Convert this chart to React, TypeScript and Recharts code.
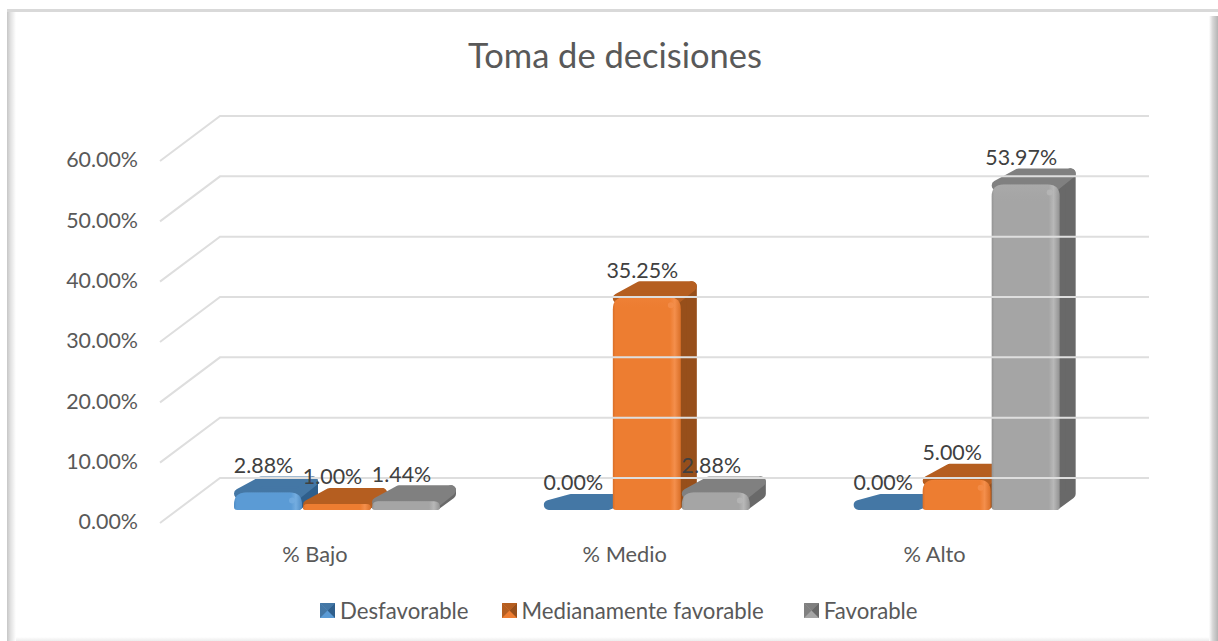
import { BarChart, Bar, XAxis, YAxis, Legend, LabelList } from 'recharts';

const categories = ['% Bajo', '% Medio', '% Alto'];
const seriesNames = ['Desfavorable', 'Medianamente favorable', 'Favorable'];
const desfavorable = [2.88, 0, 0];
const medianamente = [1.0, 35.25, 5.0];
const favorable = [1.44, 2.88, 53.97];
const yTicks = [0, 10, 20, 30, 40, 50, 60];

const chartData = categories.map((name, i) => ({
  name,
  s0: desfavorable[i],
  s1: medianamente[i],
  s2: favorable[i]
}));

const FONT = 'Lato, sans-serif';
const TEXT = '#595959';
const palette = [
  { front: '#5b9bd5', edge: '#4f8cc4', hi: '#74ade0', top: '#4477a5', side: '#2f5f8c' },
  { front: '#ed7d31', edge: '#d96f28', hi: '#f48f4c', top: '#b55e20', side: '#974f1b' },
  { front: '#a5a5a5', edge: '#939393', hi: '#b8b8b8', top: '#808080', side: '#696969' }
];

// the 3D look: bars sit partway into the floor, the walls are at the back
const BAR_DX = 23;
const BAR_DY = -13;
const DEPTH_LEFT = 22;
const DEPTH_RIGHT = 15;
const DEPTH_Y = 16;
const WALL_X = 60;
const WALL_Y = 45;
const WALL_END = 1149;

const pct = (v: number) => v.toFixed(2) + '%';

// y axis tick also draws the wall line of that value, so it follows the scale
function WallTick({ x, y, payload }: any) {
  const left = x + 8;
  return (
    <g>
      <polyline
        points={`${left},${y} ${left + WALL_X},${y - WALL_Y} ${WALL_END},${y - WALL_Y}`}
        fill="none"
        stroke="#dedede"
        strokeWidth={2}
      />
      <text x={x - 14} y={y + 1} textAnchor="end" dominantBaseline="middle" fontFamily={FONT} fontSize={21.4} fill={TEXT}>
        {pct(payload.value)}
      </text>
    </g>
  );
}

function Bar3D({ x, y, width, height, idx }: any) {
  const c = palette[idx];
  const fx = x + BAR_DX;
  const fy = y + BAR_DY;
  const r = 5;
  const right = fx + width;
  const bottom = fy + height;
  const rTop = Math.min(12, height * 0.7);
  const rBot = Math.min(3, height * 0.3);
  const w = width - 1;
  const frontPath = `M${fx},${bottom - rBot} V${fy + rTop} Q${fx},${fy} ${fx + rTop},${fy} H${fx + w - rTop} Q${fx + w},${fy} ${fx + w},${fy + rTop} V${bottom - rBot} Q${fx + w},${bottom} ${fx + w - rBot},${bottom} H${fx + rBot} Q${fx},${bottom} ${fx},${bottom - rBot} Z`;
  // the near edge of the top face drops behind the rounded front corners
  const nearY = fy + Math.min(1, height - r);
  const topFace = `${fx + r},${nearY} ${fx + DEPTH_LEFT + r},${fy - DEPTH_Y + r} ${right + DEPTH_RIGHT - r},${fy - DEPTH_Y + r} ${right - r},${nearY}`;
  const sideFace = `${right - r},${fy} ${right + DEPTH_RIGHT - r},${fy - DEPTH_Y + r} ${right + DEPTH_RIGHT - r},${Math.max(bottom - DEPTH_Y, fy - DEPTH_Y + r)} ${right - r},${bottom - r}`;
  return (
    <g>
      {height > 0 && <polygon points={sideFace} fill={c.side} stroke={c.side} strokeWidth={r * 2} strokeLinejoin="round" />}
      <polygon points={topFace} fill={c.top} stroke={c.top} strokeWidth={r * 2} strokeLinejoin="round" />
      {height > 0 && (
        <>
          <path d={frontPath} fill={`url(#front${idx})`} />
          <path d={frontPath} fill={`url(#bevel${idx})`} />
          {height > 10 && <circle cx={right - 11} cy={fy + 8} r={3} fill={c.hi} opacity={0.8} />}
        </>
      )}
    </g>
  );
}

function ValueLabel({ x, y, width, value }: any) {
  return (
    <text
      x={x + width / 2 + BAR_DX - 5}
      y={y + BAR_DY - 25}
      textAnchor="middle"
      dominantBaseline="middle"
      fontFamily={FONT}
      fontSize={21.4}
      fill="#404040"
    >
      {pct(value)}
    </text>
  );
}

function Swatch({ idx }: { idx: number }) {
  const c = palette[idx];
  return (
    <svg width={15} height={15} style={{ display: 'block', flex: 'none' }}>
      <rect width={15} height={15} fill={c.front} />
      <polygon points="0,0 15,0 7.5,7.5" fill={c.top} />
      <polygon points="15,0 15,15 7.5,7.5" fill={c.side} />
      <polygon points="0,0 0,15 7.5,7.5" fill={c.top} />
    </svg>
  );
}

function LegendRow() {
  const gaps = [33, 40, 0];
  return (
    <div style={{ display: 'flex', alignItems: 'center', fontFamily: FONT, fontSize: 22.2, color: TEXT, whiteSpace: 'nowrap' }}>
      {seriesNames.map((n, i) => (
        <div key={n} style={{ display: 'flex', alignItems: 'center', gap: 5, marginRight: gaps[i] }}>
          <Swatch idx={i} />
          <span>{n}</span>
        </div>
      ))}
    </div>
  );
}

export default function App() {
  return (
    <div style={{ position: 'absolute', left: 0, top: 0, width: 1218, height: 641, background: '#fff', overflow: 'hidden' }}>
      {/* picture frame */}
      <div style={{ position: 'absolute', left: 7, top: 9, width: 1211, height: 3, background: '#d9d9d9' }} />
      <div style={{ position: 'absolute', left: 7, top: 12, width: 9, height: 629, background: 'linear-gradient(to right, #c6c6c6, #e2e2e2 40%, #ffffff)' }} />
      <div style={{ position: 'absolute', left: 1209, top: 16, width: 9, height: 625, background: 'linear-gradient(to right, #ffffff, #d8d8d8 40%, #b4b4b4)' }} />
      <div style={{ position: 'absolute', left: 16, top: 637, width: 1193, height: 4, background: 'linear-gradient(to bottom, #ffffff, #ececec)' }} />
      <div style={{ position: 'absolute', left: 0, top: 34, width: 1230, textAlign: 'center', fontFamily: FONT, fontSize: 34.5, lineHeight: '42px', color: TEXT }}>
        Toma de decisiones
      </div>

      <div style={{ position: 'absolute', left: 0, top: 0 }}>
        <BarChart
          width={1218}
          height={641}
          data={chartData}
          margin={{ top: 161, right: 128.5, bottom: 88, left: 0 }}
          barSize={69}
          barGap={0}
          barCategoryGap={51}
        >
          <defs>
            {palette.map((c, i) => (
              <g key={i}>
                <linearGradient id={`front${i}`} x1="0" y1="0" x2="1" y2="0">
                  <stop offset="0" stopColor={c.edge} />
                  <stop offset="0.04" stopColor={c.front} />
                  <stop offset="0.84" stopColor={c.front} />
                  <stop offset="0.91" stopColor={c.hi} />
                  <stop offset="1" stopColor={c.edge} />
                </linearGradient>
                <linearGradient id={`bevel${i}`} x1="0" y1="0" x2="0" y2="1" gradientUnits="objectBoundingBox">
                  <stop offset="0" stopColor={c.hi} stopOpacity={0.25} />
                  <stop offset="0.06" stopColor={c.front} stopOpacity={0} />
                  <stop offset="1" stopColor={c.front} stopOpacity={0} />
                </linearGradient>
              </g>
            ))}
          </defs>
          <XAxis
            dataKey="name"
            axisLine={false}
            tickLine={false}
            height={30}
            tick={{ fontFamily: FONT, fontSize: 21.8, fill: TEXT }}
            tickMargin={18}
          />
          <YAxis
            width={160}
            domain={[0, 60]}
            ticks={yTicks}
            axisLine={false}
            tickLine={false}
            tick={<WallTick />}
            interval={0}
          />
          <Legend
            verticalAlign="middle"
            content={<LegendRow />}
            wrapperStyle={{ left: 320, top: 597, width: 700, height: 26 }}
          />
          {seriesNames.map((n, i) => (
            <Bar
              key={n}
              name={n}
              dataKey={`s${i}`}
              isAnimationActive={false}
              shape={(p: any) => <Bar3D {...p} idx={i} />}
            >
              <LabelList dataKey={`s${i}`} content={<ValueLabel />} />
            </Bar>
          ))}
        </BarChart>
      </div>
    </div>
  );
}
